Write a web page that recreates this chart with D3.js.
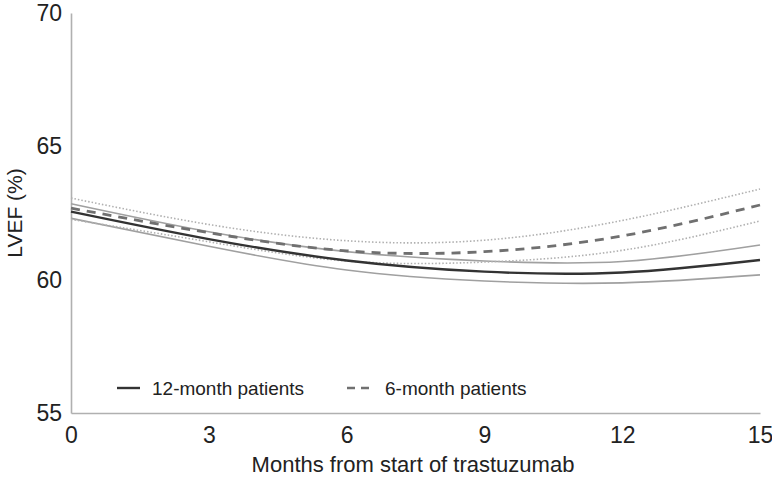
<!DOCTYPE html>
<html>
<head>
<meta charset="utf-8">
<script src="https://cdn.jsdelivr.net/npm/d3@7"></script>
<style>
  html, body { margin: 0; padding: 0; background: #fff; }
  svg { display: block; font-family: "Liberation Sans", Arial, sans-serif; }
</style>
</head>
<body>
<div id="chart"></div>
<script>
const months = [0, 3, 6, 9, 12, 15];

// 12-month patients: fitted mean and 95% band
const twelveMean  = [62.55, 61.52, 60.72, 60.30, 60.27, 60.74];
const twelveUpper = [62.85, 61.80, 61.05, 60.70, 60.68, 61.30];
const twelveLower = [62.30, 61.25, 60.36, 59.95, 59.88, 60.18];

// 6-month patients: fitted mean and 95% band
const sixMean  = [62.68, 61.76, 61.08, 61.05, 61.64, 62.80];
const sixUpper = [63.06, 62.07, 61.46, 61.48, 62.22, 63.40];
const sixLower = [62.26, 61.42, 60.70, 60.66, 61.10, 62.20];

const xTicks = [0, 3, 6, 9, 12, 15];
const yTicks = [55, 60, 65, 70];

const width = 772, height = 478;
const margin = { left: 71, right: 12, top: 13, bottom: 65 };

const svg = d3.select("#chart").append("svg")
    .attr("width", width).attr("height", height);

const x = d3.scaleLinear().domain([0, 15]).range([margin.left, width - margin.right]);
const y = d3.scaleLinear().domain([55, 70]).range([height - margin.bottom, margin.top]);

// axes: plain grey lines, no tick marks
const axisColor = "#b0b0b0";
svg.append("g")
    .attr("transform", `translate(0,${y(55)})`)
    .call(d3.axisBottom(x).tickValues(xTicks).tickSize(0).tickPadding(14))
    .call(g => g.select(".domain").attr("stroke", axisColor).attr("stroke-width", 1.6))
    .call(g => g.selectAll("text").attr("font-size", 23).attr("fill", "#222")
        .attr("font-family", "Liberation Sans, Arial, sans-serif"));

svg.append("g")
    .attr("transform", `translate(${x(0)},0)`)
    .call(d3.axisLeft(y).tickValues(yTicks).tickSize(0).tickPadding(9))
    .call(g => g.select(".domain").attr("stroke", axisColor).attr("stroke-width", 1.6))
    .call(g => g.selectAll("text").attr("font-size", 23).attr("fill", "#222")
        .attr("font-family", "Liberation Sans, Arial, sans-serif"));

// axis titles
svg.append("text")
    .attr("x", 413).attr("y", 472)
    .attr("text-anchor", "middle").attr("font-size", 22).attr("fill", "#222")
    .text("Months from start of trastuzumab");

svg.append("text")
    .attr("transform", `translate(22,${y(62.5)}) rotate(-90)`)
    .attr("text-anchor", "middle").attr("font-size", 21).attr("fill", "#222")
    .text("LVEF (%)");

// curves
const line = d3.line()
    .x((d, i) => x(months[i]))
    .y(d => y(d))
    .curve(d3.curveNatural);

const series = [
    { values: twelveUpper, stroke: "#a0a0a0", width: 1.6, dash: null },
    { values: twelveLower, stroke: "#a0a0a0", width: 1.6, dash: null },
    { values: sixUpper, stroke: "#b0b0b0", width: 1.6, dash: "1.5,2" },
    { values: sixLower, stroke: "#b0b0b0", width: 1.6, dash: "1.5,2" },
    { values: twelveMean, stroke: "#333", width: 2.4, dash: null },
    { values: sixMean, stroke: "#707070", width: 2.8, dash: "9,7" }
];

svg.append("g").selectAll("path").data(series).enter().append("path")
    .attr("d", d => line(d.values))
    .attr("fill", "none")
    .attr("stroke", d => d.stroke)
    .attr("stroke-width", d => d.width)
    .attr("stroke-dasharray", d => d.dash);

// legend
const legend = svg.append("g").attr("transform", "translate(0,388)");
legend.append("line").attr("x1", 117).attr("x2", 140).attr("y1", 0).attr("y2", 0)
    .attr("stroke", "#333").attr("stroke-width", 2.4);
legend.append("text").attr("x", 152).attr("y", 7).attr("font-size", 19).attr("fill", "#222")
    .text("12-month patients");
legend.append("line").attr("x1", 347).attr("x2", 372).attr("y1", 0).attr("y2", 0)
    .attr("stroke", "#707070").attr("stroke-width", 2.4).attr("stroke-dasharray", "8,6");
legend.append("text").attr("x", 385).attr("y", 7).attr("font-size", 19).attr("fill", "#222")
    .text("6-month patients");
</script>
</body>
</html>
